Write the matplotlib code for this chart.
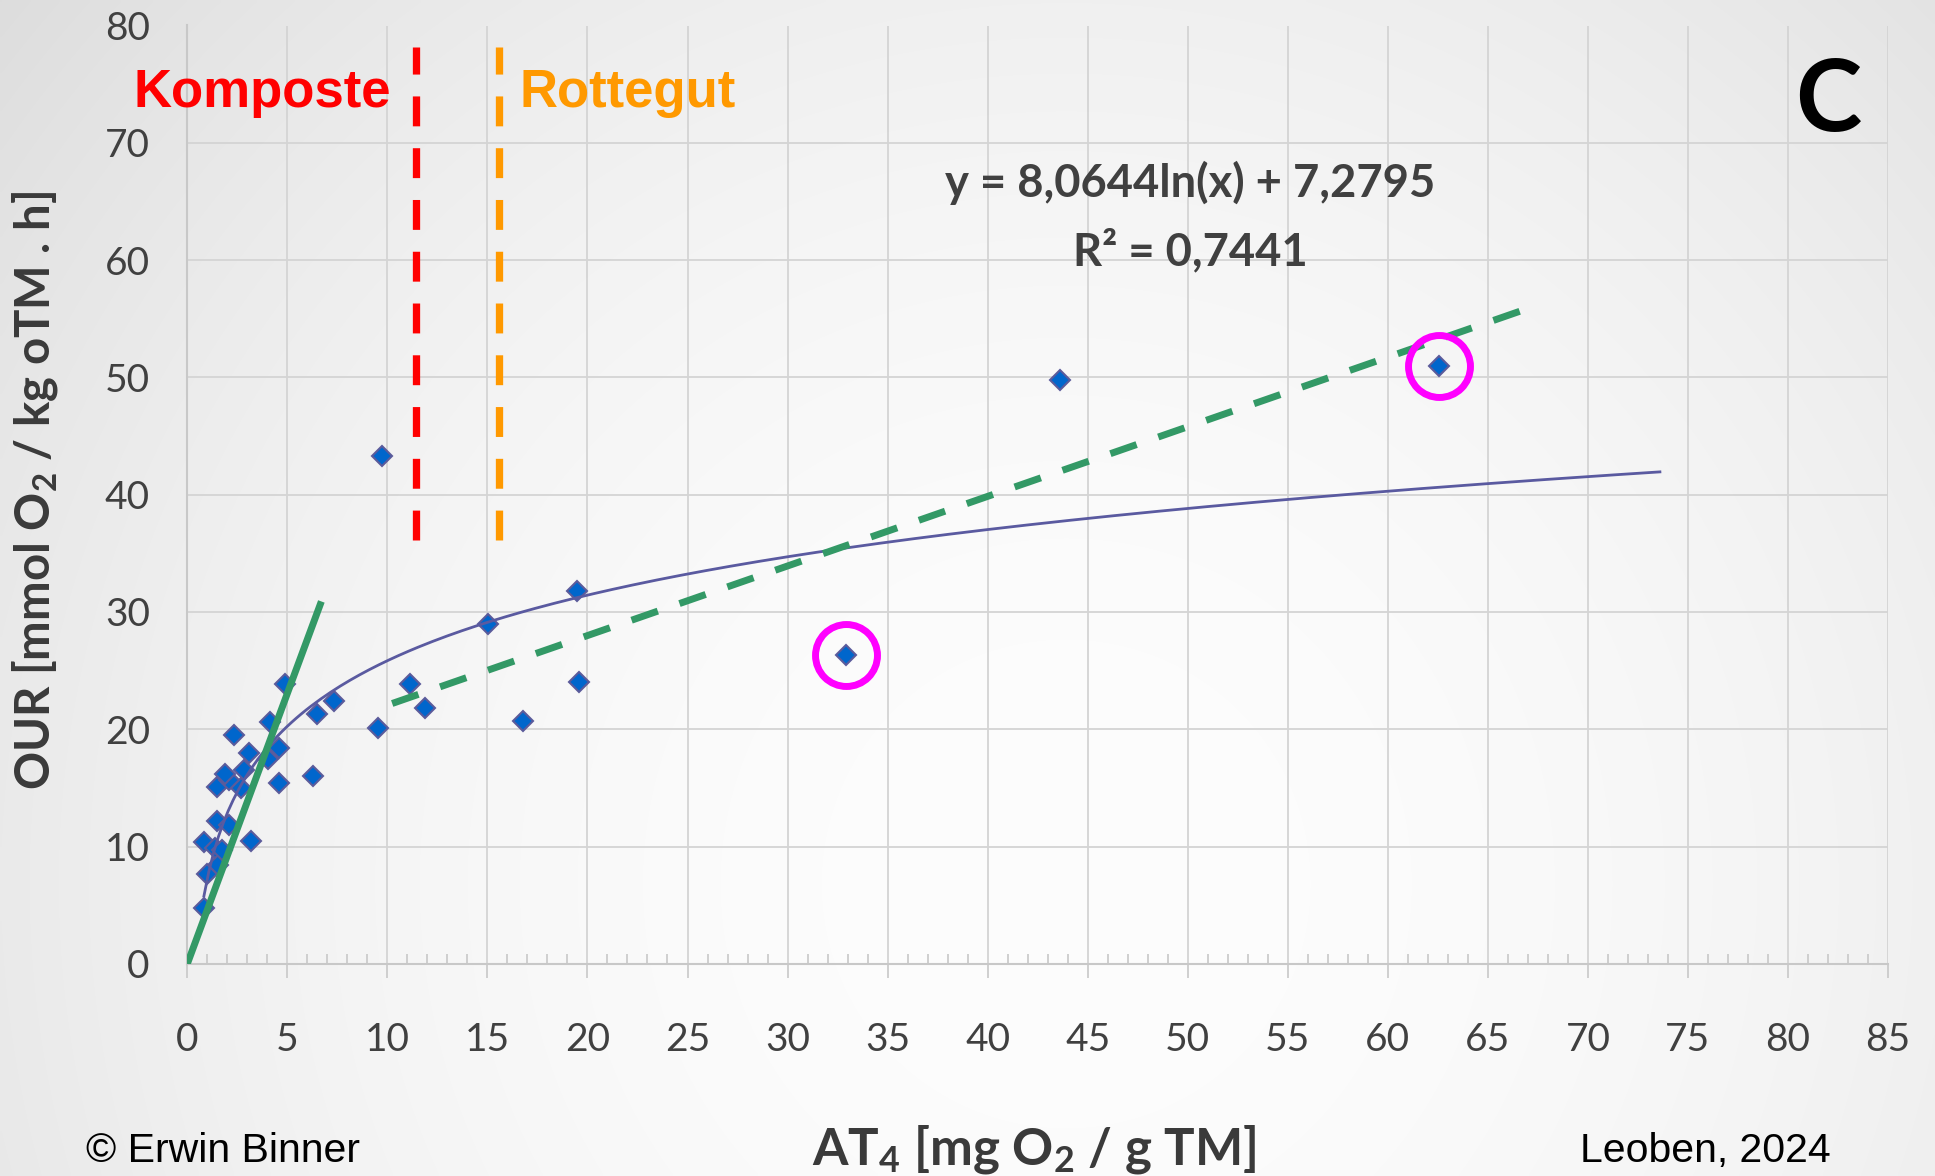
import numpy as np
import matplotlib
matplotlib.use("Agg")
import matplotlib.pyplot as plt
from matplotlib.ticker import MultipleLocator

# ---------------- data ----------------
at4 = [0.83, 1.0, 1.55, 0.83, 1.38, 1.72, 3.18, 1.5, 2.1, 1.47, 2.7, 2.1, 1.9,
       2.85, 4.58, 4.02, 3.08, 4.58, 2.33, 4.13, 4.88, 6.27, 6.47, 7.35, 9.55,
       9.75, 11.13, 11.88, 15.05, 16.8, 19.5, 19.6, 32.94, 43.6, 62.57]
our = [4.8, 7.7, 8.4, 10.4, 9.9, 9.7, 10.5, 12.2, 11.8, 15.1, 15.0, 15.7, 16.2,
       16.5, 15.4, 17.5, 18.0, 18.4, 19.5, 20.6, 23.9, 16.0, 21.3, 22.4, 20.1,
       43.3, 23.9, 21.8, 29.0, 20.7, 31.8, 24.0, 26.3, 49.8, 51.0]

circled_x = [32.94, 62.57]
circled_y = [26.3, 51.0]

# logarithmic trendline y = a*ln(x) + b (Excel trendline, forecast to x_end)
trend_a = 8.0644
trend_b = 7.2795
trend_x_end = 73.6

steep_x = [0.0, 6.7]
steep_y = [0.0, 30.9]
flat_x = [10.24, 67.04]
flat_y = [22.2, 55.9]

komposte_x = 11.42
rottegut_x = 15.58
boundary_y = [36.1, 78.2]

x_ticks = list(range(0, 86, 5))
y_ticks = list(range(0, 81, 10))

# ---------------- style ----------------
plt.rcParams["font.family"] = ["Lato", "DejaVu Sans"]
plt.rcParams["mathtext.fontset"] = "custom"
plt.rcParams["mathtext.rm"] = "Lato"
plt.rcParams["mathtext.bf"] = "Lato:bold"
plt.rcParams["mathtext.it"] = "Lato:italic"

W, H = 1935, 1176
fig = plt.figure(figsize=(W / 100, H / 100), dpi=100)

# background gradient
bg = fig.add_axes([0, 0, 1, 1], zorder=-5)
yy, xx = np.mgrid[0:H:4, 0:W:4]
d = np.sqrt((xx - 0.55 * W) ** 2 + (yy - 0.75 * H) ** 2) / 1382.0
val = (253 - 32 * d ** 2) / 255.0
bg.imshow(np.dstack([val, val, val]), extent=[0, 1, 0, 1], aspect="auto",
          interpolation="bilinear")
bg.set_axis_off()

ax = fig.add_axes([187.3 / W, 1 - 963.9 / H, (1888 - 187.3) / W, (963.9 - 25.5) / H])
ax.set_facecolor("none")
ax.set_xlim(0, 85)
ax.set_ylim(0, 80)
ax.set_xticks(x_ticks)
ax.set_yticks(y_ticks)
ax.xaxis.set_minor_locator(MultipleLocator(1))
ax.grid(True, which="major", color="#d4d4d4", lw=1.3)
ax.set_axisbelow(True)
for s in ["top", "right"]:
    ax.spines[s].set_visible(False)
for s in ["left", "bottom"]:
    ax.spines[s].set_color("#c8c8c8")
    ax.spines[s].set_linewidth(1.5)
ax.tick_params(axis="x", which="major", direction="out", length=10, width=1.2,
               color="#c8c8c8", pad=32, labelsize=28, labelcolor="#404040")
ax.tick_params(axis="x", which="minor", direction="in", length=7, width=1.2,
               color="#c8c8c8")
ax.tick_params(axis="y", which="major", length=0, pad=27, labelsize=28,
               labelcolor="#404040")

# scatter
ax.plot(at4, our, ls="none", marker="D", ms=10.5, mfc="#0066cc", mec="#5b5b9b",
        mew=1.5, zorder=3)

# trendline
tx = np.linspace(min(at4), trend_x_end, 300)
ax.plot(tx, trend_a * np.log(tx) + trend_b, color="#5a5aa0", lw=2.0, zorder=4)

# green helper lines
ax.plot(steep_x, steep_y, color="#339966", lw=5, solid_capstyle="butt", zorder=5)
ax.plot(flat_x, flat_y, color="#339966", lw=5, dashes=(4.0, 3.3), zorder=5)

# boundaries
ax.plot([komposte_x] * 2, boundary_y, color="#ff0000", lw=5.25, dashes=(4.1, 3.0),
        zorder=5)
ax.plot([rottegut_x] * 2, boundary_y, color="#ff9900", lw=5.25, dashes=(4.1, 3.0),
        zorder=5)

# circles
ax.plot(circled_x, circled_y, ls="none", marker="o", ms=44.6, mfc="none",
        mec="#ff00ff", mew=5.0, zorder=6)

# ---------------- texts ----------------
def fx(px):
    return px / W

def fy(py):
    return 1 - py / H

fig.text(fx(133), fy(107), "Komposte", color="#ff0000", fontsize=38,
         fontweight="bold", family="Liberation Sans", ha="left", va="baseline")
fig.text(fx(519.5), fy(107), "Rottegut", color="#ff9900", fontsize=38,
         fontweight="bold", family="Liberation Sans", ha="left", va="baseline")
fig.text(fx(1828), fy(131), "C", color="black", fontsize=72, fontweight="bold",
         ha="center", va="baseline")
fig.text(fx(1190), fy(197), "y = 8,0644ln(x) + 7,2795", color="#404040",
         fontsize=32.7, fontweight="bold", ha="center", va="baseline")
fig.text(fx(1190), fy(265.7), "R² = 0,7441", color="#404040",
         fontsize=32.7, fontweight="bold", ha="center", va="baseline")

fig.text(fx(35), fy(491), r"OUR [mmol O$_\mathbf{2}$ / kg oTM . h]", rotation=90,
         color="#3a3a3a", fontsize=34, fontweight="bold", ha="center", va="center")
fig.text(fx(1034), fy(1165), r"AT$_\mathbf{4}$ [mg O$_\mathbf{2}$ / g TM]",
         color="#3a3a3a", fontsize=36.8, fontweight="bold", ha="center", va="baseline")
fig.text(fx(86), fy(1162), "© Erwin Binner", color="black", fontsize=29.5,
         family="Liberation Sans", ha="left", va="baseline")
fig.text(fx(1831), fy(1162), "Leoben, 2024", color="black", fontsize=29.5,
         family="Liberation Sans", ha="right", va="baseline")

fig.savefig("out.png", dpi=100)
